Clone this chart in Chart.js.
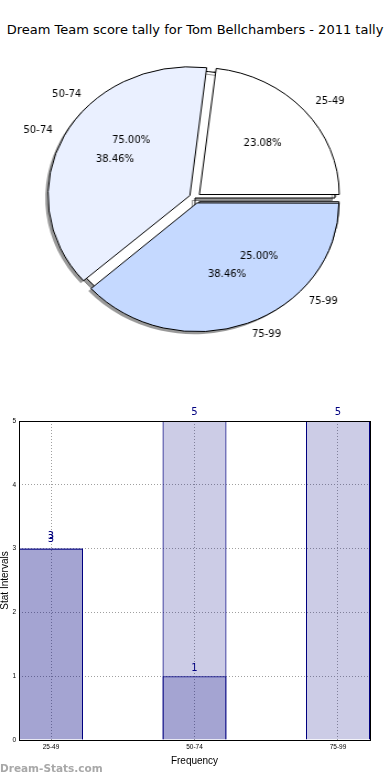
<!DOCTYPE html>
<html>
<head>
<meta charset="utf-8">
<script src="https://cdn.jsdelivr.net/npm/chart.js@4.4.0/dist/chart.umd.min.js"></script>
<style>
  body { margin: 0; background: #fff; width: 390px; height: 780px; position: relative; overflow: hidden; font-family: "DejaVu Sans", sans-serif; }
  #title { position: absolute; top: 21px; left: 0; width: 390px; text-align: center; font-size: 13px; line-height: 18px; color: #000; white-space: nowrap; }
  canvas { position: absolute; left: 0; }
  #mark { position: absolute; left: 0; top: 761px; font-size: 10.5px; line-height: 14px; font-weight: bold; color: #a8a8a8; }
</style>
</head>
<body>
<div id="title">Dream Team score tally for Tom Bellchambers - 2011 tally</div>
<canvas id="pieShadow" width="354" height="300" style="top:48px;width:390px;height:300px"></canvas>
<canvas id="pieBack" width="354" height="300" style="top:48px;width:390px;height:300px"></canvas>
<canvas id="pieFront" width="354" height="300" style="top:48px;width:390px;height:300px"></canvas>
<canvas id="barChart" width="390" height="380" style="top:400px;width:390px;height:380px"></canvas>
<div id="mark">Dream-Stats.com</div>
<script>
// categories and values
const categories = ['25-49', '50-74', '75-99'];
const tallyValues = [3, 5, 5];   // front pie + light bars
const lowerValues = [3, 1, 0];   // dark bars
const backPieLabels = ['50-74', '75-99'];
const backPieValues = [3, 1];
const yTicks = [0, 1, 2, 3, 4, 5];

const pieColors = ['#ffffff', '#eaf0ff', '#c5d9ff'];
const SHADOW = 'rgba(0,0,0,0.4)';
const S = 390 / 354;      // the original pie is a little wider than tall
const PIE_RADIUS = 127;
const EXPLODE = 21;       // chart.js moves arcs by offset / 4
const SHIFT = EXPLODE / 4;

// matplotlib goes counter-clockwise from 3 o'clock, chart.js clockwise -> reverse
const rev = arr => arr.slice().reverse();

function drawPieLabels(ctx, chart) {
  const meta = chart.getDatasetMeta(0);
  const data = chart.data.datasets[0].data;
  const total = data.reduce((a, b) => a + b, 0);
  ctx.save();
  ctx.font = '10px "DejaVu Sans"';
  ctx.fillStyle = '#000';
  ctx.textBaseline = 'middle';
  meta.data.forEach((arc, i) => {
    const mid = (arc.startAngle + arc.endAngle) / 2;
    const cx = arc.x + Math.cos(mid) * SHIFT;
    const cy = arc.y + Math.sin(mid) * SHIFT;
    const r = PIE_RADIUS + 1;
    const put = (txt, k, align) => {
      ctx.save();
      ctx.translate(cx + Math.cos(mid) * r * k, cy + Math.sin(mid) * r * k);
      ctx.scale(1 / S, 1); // undo the canvas stretch for text
      ctx.textAlign = align;
      ctx.fillText(txt, 0, 0);
      ctx.restore();
    };
    put(chart.data.labels[i], 1.1, Math.cos(mid) >= 0 ? 'left' : 'right');
    put((data[i] / total * 100).toFixed(2) + '%', 0.6, 'center');
  });
  ctx.restore();
}

const shadowPlugin = {
  id: 'shadow',
  beforeDatasetsDraw(chart) {
    const c = chart.ctx;
    c.save();
    c.shadowColor = SHADOW;
    c.shadowOffsetX = -2.5;
    c.shadowOffsetY = 2.5;
    c.shadowBlur = 0;
  },
  afterDatasetsDraw(chart) { chart.ctx.restore(); }
};

const pieOptions = {
  responsive: false,
  animation: false,
  events: [],
  rotation: 90,
  radius: PIE_RADIUS,
  layout: { padding: 0 },
  plugins: { legend: { display: false }, tooltip: { enabled: false } }
};

// shadow of the front pie, sits under everything (centre moved left/down)
new Chart(document.getElementById('pieShadow'), {
  type: 'pie',
  data: {
    labels: rev(categories),
    datasets: [{ data: rev(tallyValues), backgroundColor: SHADOW, borderWidth: 0, offset: EXPLODE }]
  },
  options: Object.assign({}, pieOptions, { layout: { padding: { right: 5, top: 5 } } })
});

// hidden pie underneath (only its labels and edges show)
const backChart = new Chart(document.getElementById('pieBack'), {
  type: 'pie',
  data: {
    labels: rev(backPieLabels),
    datasets: [{
      data: rev(backPieValues),
      backgroundColor: rev(pieColors.slice(0, 2)),
      borderColor: '#000',
      borderWidth: 1,
      offset: [EXPLODE, 0]
    }]
  },
  options: pieOptions,
  plugins: [shadowPlugin]
});

new Chart(document.getElementById('pieFront'), {
  type: 'pie',
  data: {
    labels: rev(categories),
    datasets: [{
      data: rev(tallyValues),
      backgroundColor: rev(pieColors),
      borderColor: '#000',
      borderWidth: 1,
      offset: EXPLODE
    }]
  },
  options: pieOptions,
  plugins: [{
    id: 'pieLabels',
    afterDraw(chart) {
      drawPieLabels(chart.ctx, backChart);
      drawPieLabels(chart.ctx, chart);
    }
  }]
});

// bar chart
const boxPlugin = {
  id: 'box',
  afterDatasetsDraw(chart) {
    const a = chart.chartArea, c = chart.ctx;
    c.save();
    c.strokeStyle = '#000';
    c.lineWidth = 1;
    c.strokeRect(a.left + 0.5, a.top + 0.5, a.right - a.left, a.bottom - a.top);
    c.restore();
  }
};

const valuePlugin = {
  id: 'values',
  afterDatasetsDraw(chart) {
    const c = chart.ctx;
    c.save();
    c.font = '10px "DejaVu Sans"';
    c.fillStyle = '#000080';
    c.textAlign = 'center';
    c.textBaseline = 'bottom';
    chart.data.datasets.forEach((ds, d) => {
      chart.getDatasetMeta(d).data.forEach((bar, i) => {
        const v = ds.data[i].y;
        if (!v) return;
        const gap = d === 0 ? 4 : v * 2.5;
        c.fillText(String(v), bar.x, bar.y - gap);
      });
    });
    c.restore();
  }
};

const barStyle = {
  backgroundColor: 'rgba(0,0,128,0.2)',
  borderColor: '#000080',
  borderWidth: 1,
  grouped: false,
  barPercentage: 0.446,
  categoryPercentage: 1
};

const gridStyle = { color: '#a0a0a0', lineWidth: 1, drawTicks: false, offset: false };

new Chart(document.getElementById('barChart'), {
  type: 'bar',
  data: {
    datasets: [
      Object.assign({ label: 'tally', data: tallyValues.map((v, i) => ({ x: i, y: v })) }, barStyle),
      Object.assign({ label: 'lower', data: lowerValues.map((v, i) => ({ x: i, y: v })) }, barStyle)
    ]
  },
  options: {
    responsive: false,
    animation: false,
    events: [],
    layout: { padding: { top: 21, right: 20, left: 0, bottom: 0 } },
    plugins: { legend: { display: false }, tooltip: { enabled: false } },
    scales: {
      x: {
        type: 'linear',
        offset: false,
        min: -0.223,
        max: 2.223,
        afterFit: s => { s.height = 40; },
        afterBuildTicks: s => { s.ticks = categories.map((c, i) => ({ value: i })); },
        ticks: { callback: v => categories[v], font: { size: 6.5 }, color: '#000', padding: 3, maxRotation: 0, autoSkip: false },
        grid: gridStyle,
        border: { display: false, dash: [1, 2] },
        title: { display: true, text: 'Frequency', color: '#000', font: { size: 10, lineHeight: 1 }, padding: { top: 0, bottom: 14 } }
      },
      y: {
        min: 0,
        max: 5,
        afterFit: s => { s.width = 19; },
        afterBuildTicks: s => { s.ticks = yTicks.map(v => ({ value: v })); },
        ticks: { font: { size: 6.5 }, color: '#000', padding: 3 },
        grid: gridStyle,
        border: { display: false, dash: [1, 2] },
        title: { display: true, text: 'Stat Intervals', color: '#000', font: { size: 10, lineHeight: 1 }, padding: { top: 0, bottom: 0 } }
      }
    }
  },
  plugins: [boxPlugin, valuePlugin]
});
</script>
</body>
</html>
